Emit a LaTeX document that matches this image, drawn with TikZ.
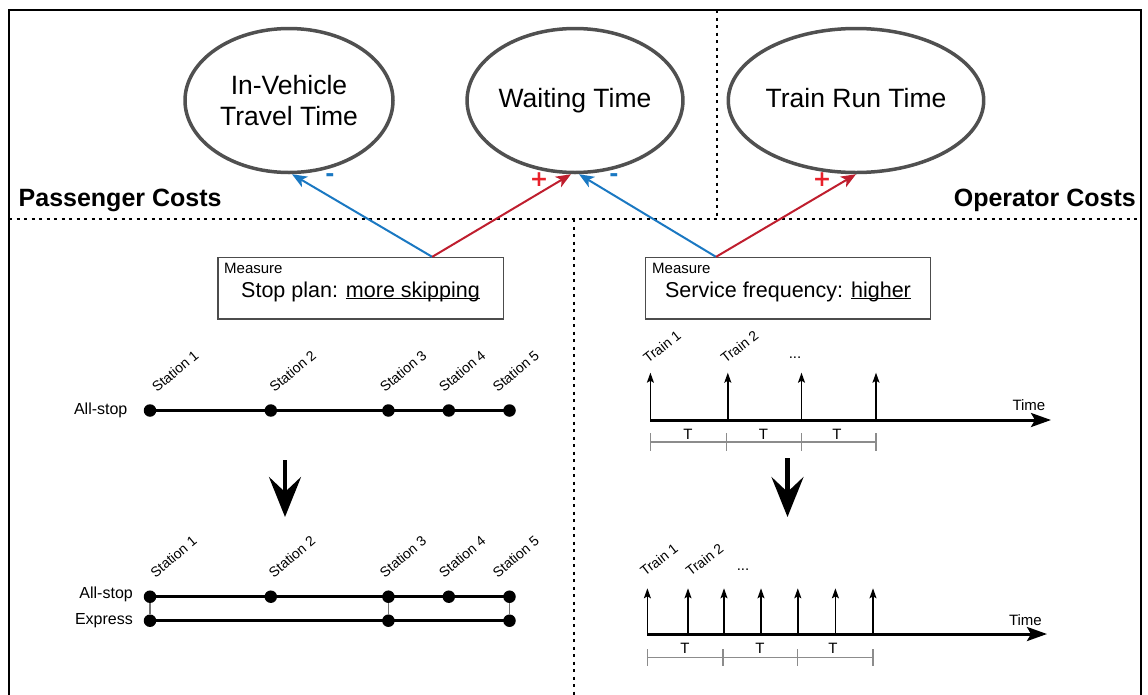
\documentclass[tikz,border=0pt]{standalone}
\usepackage{fontspec}
\setmainfont{Liberation Sans}
\newfontfamily\signfont{DejaVu Sans}
\usetikzlibrary{arrows.meta,shapes.geometric,calc}

\definecolor{posred}{HTML}{BF1E2E}
\definecolor{negblue}{HTML}{1A78C2}
\definecolor{signred}{HTML}{E8202A}
\definecolor{rimgray}{HTML}{505050}

% underline that sits just below the baseline, crossing descenders
\newcommand\lowrule[1]{\setbox0\hbox{#1}\rlap{\rule[-2.4pt]{\wd0}{1.2pt}}\box0}

\begin{document}
\begin{tikzpicture}[x=1pt,y=-1pt,
  cost/.style={ellipse, draw=rimgray, line width=3.5pt, minimum width=208pt,
    minimum height=144pt, inner sep=0pt, align=center,
    font=\fontsize{26.5}{31}\selectfont},
  measurebox/.style={draw=black!70, line width=1.2pt, minimum width=285.5pt,
    minimum height=61.5pt, inner sep=0pt},
  tag/.style={anchor=base west, inner sep=0pt, font=\fontsize{15}{18}\selectfont},
  headline/.style={anchor=base, inner sep=0pt, font=\fontsize{21.5}{26}\selectfont},
  region/.style={inner sep=0pt, font=\bfseries\fontsize{25}{30}\selectfont},
  sep/.style={line width=2pt, dash pattern=on 3pt off 4.5pt},
  effect/.style={line width=2pt, -{Stealth[length=15pt,width=12pt,inset=4pt]}},
  sign/.style={inner sep=0pt, font=\signfont\bfseries\fontsize{22}{26}\selectfont},
  stop/.style={circle, fill=black, minimum size=12.5pt, inner sep=0pt},
  stationlbl/.style={rotate=40, anchor=base west, inner sep=0pt,
    font=\fontsize{14}{16}\selectfont},
  trainlbl/.style={rotate=38, anchor=base west, inner sep=0pt,
    font=\fontsize{14}{16}\selectfont},
  rowlbl/.style={anchor=east, inner sep=0pt, font=\fontsize{16}{19}\selectfont},
  track/.style={line width=2.5pt},
  link/.style={line width=1.2pt, draw=black!55},
  bigdown/.style={line width=4.5pt, -{Stealth[length=40pt,width=32pt,inset=15pt]}},
  axis/.style={line width=3pt, -{Stealth[length=20pt,width=14pt,inset=4pt]}},
  departure/.style={line width=1.4pt, -{Stealth[length=10pt,width=7pt,inset=2pt]}},
  period/.style={line width=1.1pt, draw=black!45},
  smalltxt/.style={inner sep=0pt, font=\fontsize{15}{18}\selectfont}
]
\useasboundingbox (0,0) rectangle (1148,694);

% outer frame (open at the bottom edge of the page)
\draw[line width=2.5pt] (9,720) -- (9,10) -- (1141,10) -- (1141,720);

% region separators
\draw[sep] (9,219) -- (1141,219);
\draw[sep] (716.5,10) -- (716.5,219);
\draw[sep] (573.5,219) -- (573.5,700);

% region titles
\node[region, anchor=base west] (pc) at (18.5,206) {Passenger Costs};
\node[region, anchor=base east] (oc) at (1136,206) {Operator Costs};

% cost components
\node[cost] (e1) at (289,100.5) {In-Vehicle\\Travel Time};
\node[cost] (e2) at (575,100.5) {Waiting Time};
\node[cost] (e3) at (856,100.5) {Train Run Time\vphantom{g}};

% measures
\node[measurebox] (m1) at (360.7,288.2) {};
\node[tag] (m1tag) at (224,273) {Measure};
\node[headline] (m1txt) at (360.5,297) {Stop plan: \lowrule{more skipping}};

\node[measurebox] (m2) at (788,288.2) {};
\node[tag] (m2tag) at (652,273) {Measure};
\node[headline] (m2txt) at (788,297) {Service frequency: \lowrule{higher}};

% effects of each measure on the costs
\coordinate (m1out) at ([xshift=71.5pt]m1.north);
\coordinate (m2out) at ([xshift=-72pt]m2.north);
\draw[effect, negblue] (m1out) -- ([xshift=3pt]e1.south);
\draw[effect, posred] (m1out) -- ([xshift=-4pt]e2.south);
\draw[effect, negblue] (m2out) -- ([xshift=4pt]e2.south);
\draw[effect, posred] (m2out) -- (e3.south);

\node[sign, text=negblue] (s1) at (330,178) {-};
\node[sign, text=signred] (s2) at (539,180) {+};
\node[sign, text=negblue] (s3) at (614,178) {-};
\node[sign, text=signred] (s4) at (822,180) {+};

% ---------- stop plan: all-stop pattern ----------
\foreach \i/\x in {1/150,2/270.8,3/388.4,4/448.8,5/509.5}
  \node[stop] (a\i) at (\x,410.5) {};
\draw[track] (a1.center) -- (a2.center) -- (a3.center) -- (a4.center) -- (a5.center);
\node[rowlbl] (arow) at (127.6,410.5) {All-stop};
\foreach \i/\x in {1/157,2/274.5,3/385,4/444,5/497.7}
  \node[stationlbl] (al\i) at (\x,393) {Station \i};

\coordinate (d1a) at (285,460);
\coordinate (d1b) at (285,517);
\draw[bigdown] (d1a) -- (d1b);

% ---------- stop plan: all-stop + express ----------
\foreach \i/\x in {1/150,2/270.8,3/388.4,4/448.8,5/509.5}
  \node[stop] (b\i) at (\x,596.7) {};
\foreach \i/\x in {1/150,3/388.4,5/509.5}
  \node[stop] (c\i) at (\x,620.7) {};
\draw[link] (b1) -- (c1);
\draw[link] (b3) -- (c3);
\draw[link] (b5) -- (c5);
\draw[track] (b1.center) -- (b2.center) -- (b3.center) -- (b4.center) -- (b5.center);
\draw[track] (c1.center) -- (c3.center) -- (c5.center);
\node[rowlbl] (brow) at (133,594.5) {All-stop};
\node[rowlbl] (crow) at (133,620.7) {Express};
\foreach \i/\x in {1/155.4,2/273.8,3/384.8,4/444,5/497.7}
  \node[stationlbl] (bl\i) at (\x,578.3) {Station \i};

% ---------- service frequency: current headway ----------
\coordinate (ax0) at (650.4,420);
\coordinate (ax1) at (1051,420);
\foreach \i/\x in {1/650.4,2/727.8,3/801.5,4/876}{
  \coordinate (p\i) at (\x,420);
  \coordinate (q\i) at (\x,372.7);
  \draw[departure] (p\i) -- (q\i);
}
\draw[axis] (ax0) -- (ax1);
\node[smalltxt, anchor=base east] (time1) at (1045.5,410) {Time};
\node[trainlbl] (tr1) at (648,364) {Train 1};
\node[trainlbl] (tr2) at (725.5,364) {Train 2};
\node[smalltxt] (dots1) at (795,358) {...};
\draw[period] (650.4,442) -- (876,442);
\foreach \x in {650.4,726.7,801.5,876}
  \draw[period] (\x,433) -- (\x,450.7);
\foreach \x in {688,763.5,837}
  \node[smalltxt, anchor=base] at (\x,439) {T};

\coordinate (d2a) at (787.5,458);
\coordinate (d2b) at (787.5,517);
\draw[bigdown] (d2a) -- (d2b);

% ---------- service frequency: shorter headway ----------
\coordinate (bx0) at (647.4,634);
\coordinate (bx1) at (1047,634);
\foreach \i/\x in {1/647.4,2/688,3/724,4/761,5/797.8,6/835.4,7/873}{
  \coordinate (u\i) at (\x,634);
  \coordinate (v\i) at (\x,588.3);
  \draw[departure] (u\i) -- (v\i);
}
\draw[axis] (bx0) -- (bx1);
\node[smalltxt, anchor=base east] (time2) at (1042,625) {Time};
\node[trainlbl] (tr3) at (645,577) {Train 1};
\node[trainlbl] (tr4) at (690.5,577) {Train 2};
\node[smalltxt] (dots2) at (743,570) {...};
\draw[period] (647.4,657.3) -- (873,657.3);
\foreach \x in {647.4,723,797.8,873}
  \draw[period] (\x,649) -- (\x,665.5);
\foreach \x in {685,760,833}
  \node[smalltxt, anchor=base] at (\x,653) {T};
\end{tikzpicture}
\end{document}
